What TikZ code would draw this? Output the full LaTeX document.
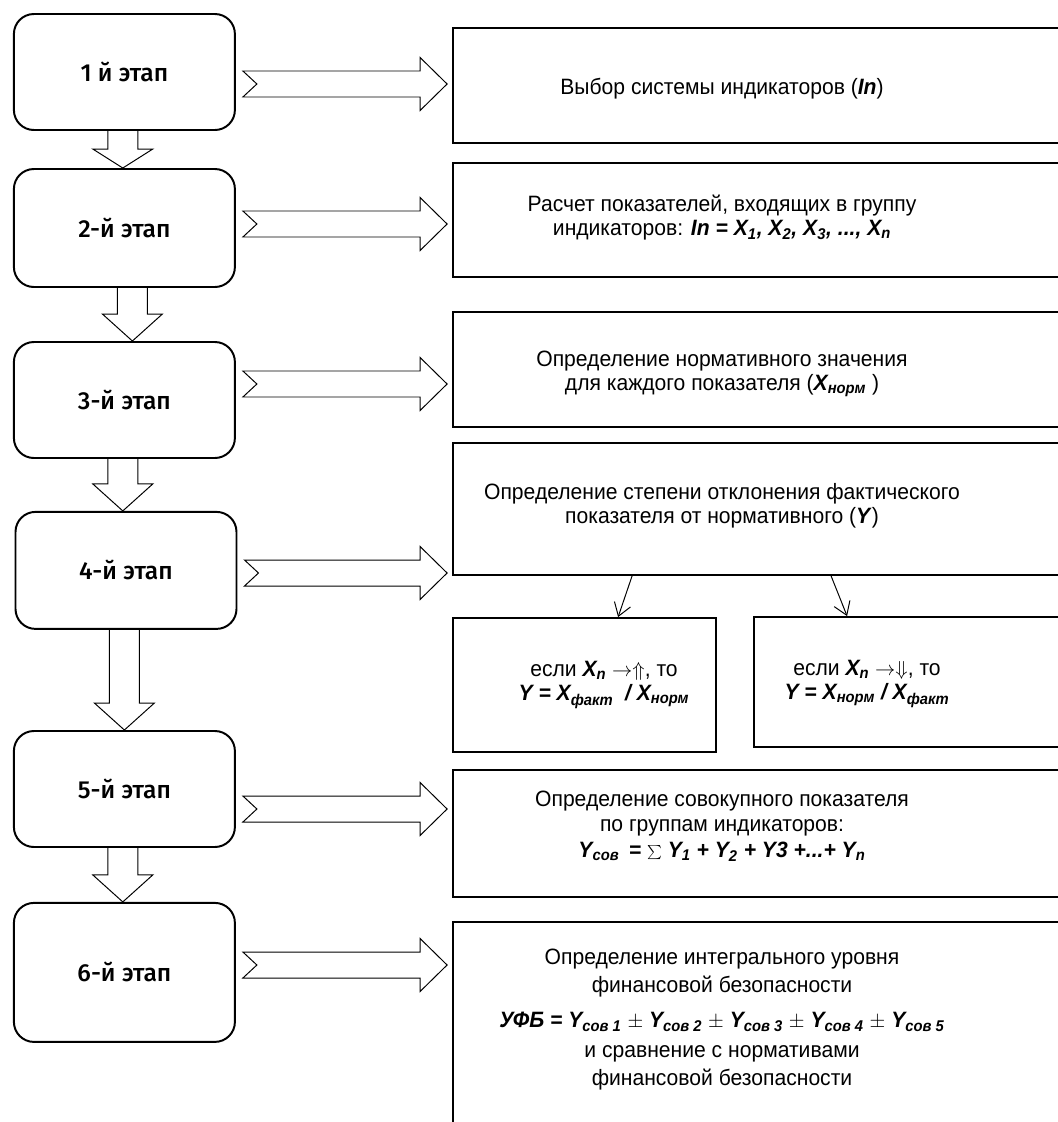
\documentclass[tikz,border=0pt]{standalone}
\usepackage{fontspec}
\setmainfont{Liberation Sans}[FakeStretch=0.95]
\newfontfamily\stagefont{Fira Sans Medium}
\usetikzlibrary{calc, arrows.meta}

\newcommand{\bfit}[1]{\textbf{\textit{#1}}}

% wide arrow from a stage to its description: source, target, y
\newcommand{\flowright}[3]{%
  \draw[flowline] let \p1=(#1.east), \p2=(#2.west) in
    (\x1+0.175cm,#3+0.325cm) -- (\x2-0.8cm,#3+0.325cm) -- (\x2-0.8cm,#3+0.6625cm)
    -- (\x2-0.125cm,#3) -- (\x2-0.8cm,#3-0.6625cm) -- (\x2-0.8cm,#3-0.325cm)
    -- (\x1+0.175cm,#3-0.325cm) -- (\x1+0.525cm,#3) -- cycle;}

% wide arrow between two stages: source, target, head length, x offset
\newcommand{\flowdown}[4]{%
  \draw[flowline] let \p1=(#1.south), \p2=(#2.north) in
    (\x1+#4-0.375cm,\y1) -- (\x1+#4-0.375cm,\y2+#3) -- (\x1+#4-0.75cm,\y2+#3)
    -- (\x1+#4,\y2) -- (\x1+#4+0.75cm,\y2+#3) -- (\x1+#4+0.375cm,\y2+#3)
    -- (\x1+#4+0.375cm,\y1);}

\tikzset{
  stagebox/.style={draw, line width=1.4pt, rounded corners=0.5cm, minimum width=5.525cm,
    minimum height=2.9cm, font=\stagefont\fontsize{17.5}{20}\selectfont},
  infobox/.style={draw, line width=1.3pt, inner sep=0pt},
  infotext/.style={align=center, font=\fontsize{15.8}{17}\selectfont},
  flowline/.style={line width=0.7pt, line join=miter},
  thinarrow/.style={line width=0.7pt, -{Straight Barb[length=9pt,width=12pt]}}
}

\begin{document}
\begin{tikzpicture}
  \useasboundingbox (0,0) rectangle (26.45,-28.05);

  % Stages
  \node[stagebox] (s1) at (3.11,-1.8) {1 й этап};
  \node[stagebox, minimum height=2.95cm] (s2) at (3.11,-5.7) {2-й этап};
  \node[stagebox] (s3) at (3.11,-10.0) {3-й этап};
  \node[stagebox, minimum height=2.925cm] (s4) at (3.15,-14.26) {4-й этап};
  \node[stagebox] (s5) at (3.11,-19.725) {5-й этап};
  \node[stagebox, minimum height=3.475cm] (s6) at (3.11,-24.31) {6-й этап};

  % Descriptions
  \node[infobox, minimum width=15.55cm, minimum height=2.875cm] (r1) at (19.1,-2.1375) {};
  \node[infobox, minimum width=15.55cm, minimum height=2.85cm] (r2) at (19.1,-5.5) {};
  \node[infobox, minimum width=15.55cm, minimum height=2.875cm] (r3) at (19.1,-9.2375) {};
  \node[infobox, minimum width=15.55cm, minimum height=3.3cm] (r4) at (19.1,-12.725) {};
  \node[infobox, minimum width=15.55cm, minimum height=3.175cm] (r5) at (19.1,-20.8375) {};
  \node[infobox, minimum width=15.55cm, minimum height=5.45cm] (r6) at (19.1,-25.775) {};

  \node[infotext] (t1) at (18.05,-2.225) {Выбор системы индикаторов (\bfit{In})};
  \node[infotext] (t2) at (18.05,-5.45) {Расчет показателей, входящих в группу\\
    индикаторов: \bfit{In = X\textsubscript{1}, X\textsubscript{2}, X\textsubscript{3}, ..., X\textsubscript{n}}};
  \node[infotext] (t3) at (18.05,-9.35) {Определение нормативного значения\\
    для каждого показателя (\bfit{X\textsubscript{норм}} )};
  \node[infotext] (t4) at (18.05,-12.65) {Определение степени отклонения фактического\\
    показателя от нормативного (\bfit{Y})};
  \node[infotext, font=\fontsize{15.8}{18}\selectfont] (t5) at (18.05,-20.65) {Определение совокупного показателя\\
    по группам индикаторов:\\
    \bfit{Y\textsubscript{сов} \,= $\sum$ Y\textsubscript{1} + Y\textsubscript{2} + Y3 +...+ Y\textsubscript{n}}};
  \node[infotext, font=\fontsize{15.8}{20}\selectfont] (t6) at (18.05,-25.49) {Определение интегрального уровня\\
    финансовой безопасности\\[5pt]
    \bfit{УФБ = Y\textsubscript{сов 1} $\pm$ Y\textsubscript{сов 2} $\pm$ Y\textsubscript{сов 3} $\pm$ Y\textsubscript{сов 4} $\pm$ Y\textsubscript{сов 5}}\\[1.5pt]
    и сравнение с нормативами\\
    финансовой безопасности};

  % Conditions
  \node[infobox, minimum width=6.575cm, minimum height=3.35cm] (c1) at (14.6125,-17.125) {};
  \node[infobox, minimum width=8.025cm, minimum height=3.25cm] (c2) at (22.8625,-17.05) {};
  \node[infotext] (k1) at (15.1,-17.125) {если \bfit{X\textsubscript{n}} $\rightarrow\Uparrow$, то\\
    \bfit{Y = X\textsubscript{факт} \ / X\textsubscript{норм}}};
  \node[infotext] (k2) at (21.675,-17.1) {если \bfit{X\textsubscript{n}} $\rightarrow\Downarrow$, то\\
    \bfit{Y = X\textsubscript{норм} / X\textsubscript{факт}}};

  % Arrows to descriptions
  \flowright{s1}{r1}{-2.1cm}
  \flowright{s2}{r2}{-5.6cm}
  \flowright{s3}{r3}{-9.6cm}
  \flowright{s4}{r4}{-14.325cm}
  \flowright{s5}{r5}{-20.225cm}
  \flowright{s6}{r6}{-24.125cm}

  % Arrows between stages
  \flowdown{s1}{s2}{0.475cm}{-0.04cm}
  \flowdown{s2}{s3}{0.675cm}{0.2cm}
  \flowdown{s3}{s4}{0.675cm}{-0.04cm}
  \flowdown{s4}{s5}{0.675cm}{-0.04cm}
  \flowdown{s5}{s6}{0.675cm}{-0.04cm}

  % Branches
  \draw[thinarrow] ([xshift=4.5cm]r4.south west) -- ([xshift=4.15cm]c1.north west);
  \draw[thinarrow] ([xshift=9.475cm]r4.south west) -- ([xshift=2.35cm]c2.north west);
\end{tikzpicture}
\end{document}
